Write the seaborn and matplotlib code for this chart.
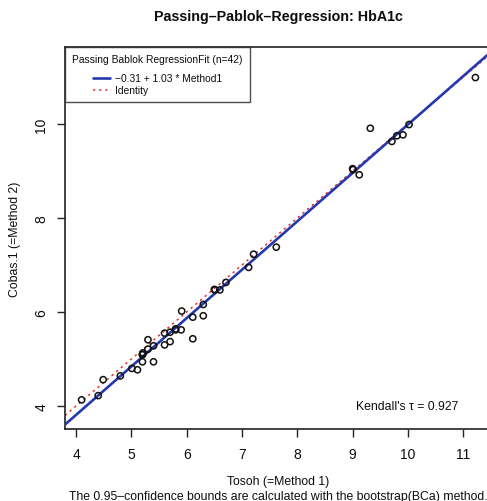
import numpy as np
import pandas as pd
import matplotlib
matplotlib.use("Agg")
import matplotlib.pyplot as plt
import seaborn as sns
from matplotlib.lines import Line2D
from matplotlib.legend_handler import HandlerLine2D

# ---- data ----
method1 = [4.10, 4.40, 4.49, 4.80, 5.01, 5.11, 5.20, 5.20, 5.21, 5.30,
           5.30, 5.40, 5.40, 5.60, 5.60, 5.70, 5.70, 5.80, 5.90, 5.91,
           6.11, 6.11, 6.30, 6.30, 6.51, 6.60, 6.71, 7.12, 7.21, 7.62,
           9.01, 9.12, 9.32, 9.71, 9.80, 9.91, 10.02, 11.22,
           5.20, 9.00, 6.50, 5.80]
method2 = [4.13, 4.22, 4.56, 4.64, 4.80, 4.77, 4.94, 5.09, 5.13, 5.21,
           5.41, 5.28, 4.94, 5.30, 5.55, 5.37, 5.57, 5.64, 5.62, 6.02,
           5.43, 5.89, 5.92, 6.16, 6.47, 6.47, 6.63, 6.95, 7.23, 7.38,
           9.03, 8.92, 9.91, 9.63, 9.75, 9.77, 9.99, 10.99,
           5.10, 9.05, 6.48, 5.62]
intercept = -0.31
slope = 1.03
kendall_tau = 0.927
x_ticks = [4, 5, 6, 7, 8, 9, 10, 11]
y_ticks = [4, 6, 8, 10]

df = pd.DataFrame({"Method1": method1, "Method2": method2})

sns.set_theme(style="ticks")
plt.rcParams['font.family'] = ['Liberation Sans', 'DejaVu Sans']

BLUE = "#2438b0"
RED = "#e8302a"
INK = "#0d0d0d"

W, H = 487, 502
fig = plt.figure(figsize=(W / 100, H / 100), dpi=100)
left, right, top, bottom = 65, 492, 48, 430
ax = fig.add_axes([left / W, 1 - bottom / H, (right - left) / W, (bottom - top) / H])

xlim = (3.80, 11.52)
ylim = (3.51, 11.64)
ax.set_xlim(*xlim)
ax.set_ylim(*ylim)

# identity and regression lines
ax.axline((0, 0), slope=1.0, color=RED, lw=1.1, ls=(0, (1.5, 2.5)), zorder=2)
ax.axline((0, intercept), slope=slope, color=BLUE, lw=1.9, zorder=3)

sns.scatterplot(data=df, x="Method1", y="Method2", ax=ax, marker="o",
                s=20, facecolor="none", edgecolor="#111111", linewidth=1.1,
                zorder=4, legend=False)

ax.set_xticks(x_ticks)
ax.set_yticks(y_ticks)
ax.set_xticklabels([str(t) for t in x_ticks], fontsize=10)
ax.set_yticklabels([str(t) for t in y_ticks], fontsize=10, rotation=90, va="center")
ax.tick_params(axis="both", direction="out", length=6, width=1.0, color="#222222",
               labelcolor=INK)
ax.tick_params(axis="x", pad=7)
ax.tick_params(axis="y", pad=6)
for s in ax.spines.values():
    s.set_color("#222222")
    s.set_linewidth(1.2)

ax.set_xlabel("")
ax.set_ylabel("")


class IndentHandler(HandlerLine2D):
    def create_artists(self, legend, orig_handle, xdescent, ydescent, width,
                       height, fontsize, trans):
        y = height / 2 - ydescent
        line = Line2D([width * 0.56 - xdescent, width - xdescent], [y, y])
        line.update_from(orig_handle)
        line.set_transform(trans)
        return [line]


handles = [Line2D([], [], color=BLUE, lw=1.9),
           Line2D([], [], color=RED, lw=1.1, ls=(0, (1.5, 2.5)))]
labels = [f"\u2212{abs(intercept):.2f} + {slope:.2f} * Method1", "Identity"]
leg = ax.legend(handles, labels, title=f"Passing Bablok RegressionFit (n={len(method1)})",
                loc="upper left", borderaxespad=0, fontsize=7.4, title_fontsize=7.4,
                frameon=True, fancybox=False, handlelength=3.7, handletextpad=0.45,
                labelspacing=0.2, borderpad=0.7, alignment="left",
                handler_map={Line2D: IndentHandler()})
leg._legend_box.sep = 6.5
leg.get_frame().set_edgecolor("#222222")
leg.get_frame().set_linewidth(1.0)
for t in leg.get_texts():
    t.set_color(INK)
leg.get_title().set_color(INK)

ax.text(10.91, 4.0, f"Kendall's \u03c4 = {kendall_tau}",
        ha="right", va="center", fontsize=8.8, color=INK)

# titles and labels
cx = ((left + right) / 2) / W
fig.text(cx, 1 - 17 / H, "Passing\u2013Pablok\u2013Regression: HbA1c", ha="center",
         va="center", fontsize=10.3, fontweight="bold", color=INK)
fig.text(cx, 1 - 482 / H, "Tosoh (=Method 1)", ha="center", va="center",
         fontsize=8.8, color=INK)
fig.text(cx, 1 - 497 / H,
         "The 0.95\u2013confidence bounds are calculated with the bootstrap(BCa) method.",
         ha="center", va="center", fontsize=8.85, color=INK)
fig.text(15 / W, 1 - 239 / H, "Cobas.1 (=Method 2)", ha="center", va="center",
         rotation=90, fontsize=8.8, color=INK)

fig.savefig("out.png", dpi=100)
